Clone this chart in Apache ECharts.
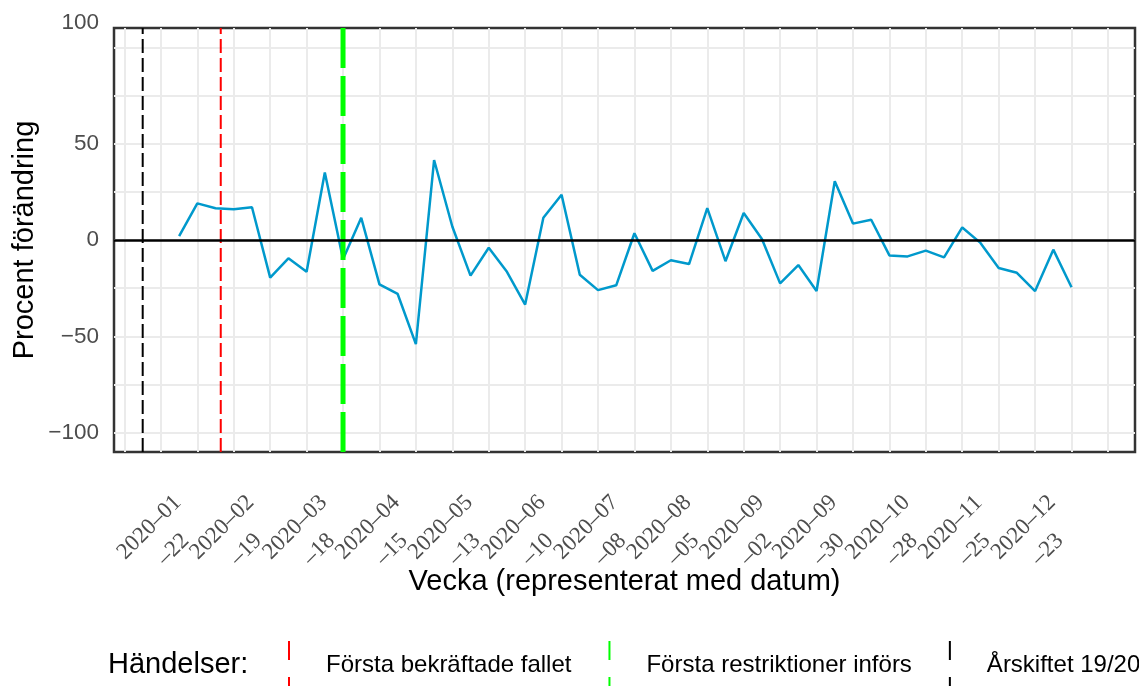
<!DOCTYPE html>
<html>
<head>
<meta charset="utf-8">
<script src="https://cdn.jsdelivr.net/npm/echarts@6/dist/echarts.min.js"></script>
<style>
html,body{margin:0;padding:0;background:#ffffff;}
#chart{width:1139px;height:686px;}
</style>
</head>
<body>
<div id="chart"></div>
<script>
// ---- data ----
const weekDates = [
  '2020-01-15','2020-01-22','2020-01-29','2020-02-05','2020-02-12','2020-02-19','2020-02-26',
  '2020-03-04','2020-03-11','2020-03-18','2020-03-25','2020-04-01','2020-04-08','2020-04-15',
  '2020-04-22','2020-04-29','2020-05-06','2020-05-13','2020-05-20','2020-05-27','2020-06-03',
  '2020-06-10','2020-06-17','2020-06-24','2020-07-01','2020-07-08','2020-07-15','2020-07-22',
  '2020-07-29','2020-08-05','2020-08-12','2020-08-19','2020-08-26','2020-09-02','2020-09-09',
  '2020-09-16','2020-09-23','2020-09-30','2020-10-07','2020-10-14','2020-10-21','2020-10-28',
  '2020-11-04','2020-11-11','2020-11-18','2020-11-25','2020-12-02','2020-12-09','2020-12-16',
  '2020-12-23'
];
const pctChange = [
  2, 19, 16.5, 16, 17, -19.5, -9.5,
  -16.5, 35, -10, 11.5, -23, -28, -54,
  41.5, 7, -18.5, -4, -16.5, -33.5, 11.5,
  23.5, -18, -26, -23.5, 3.5, -16, -10.5,
  -12.5, 16.5, -11, 14, 0.5, -22.5, -13,
  -26.5, 30.5, 8.5, 10.5, -8, -8.5, -5.5,
  -9, 6.5, -1.5, -14.5, -17, -26.5, -5,
  -24.5
];
const eventNames  = ['Första bekräftade fallet', 'Första restriktioner införs', 'Årskiftet 19/20'];
const eventDates  = ['2020-01-31', '2020-03-18', '2020-01-01'];
const xLabelDates = ['2020-01-22','2020-02-19','2020-03-18','2020-04-15','2020-05-13','2020-06-10',
                     '2020-07-08','2020-08-05','2020-09-02','2020-09-30','2020-10-28','2020-11-25','2020-12-23'];
const xGridDates  = ['2019-12-25','2020-01-08','2020-01-22','2020-02-05','2020-02-19','2020-03-04',
                     '2020-03-18','2020-04-01','2020-04-15','2020-04-29','2020-05-13','2020-05-27',
                     '2020-06-10','2020-06-24','2020-07-08','2020-07-22','2020-08-05','2020-08-19',
                     '2020-09-02','2020-09-16','2020-09-30','2020-10-14','2020-10-28','2020-11-11',
                     '2020-11-25','2020-12-09','2020-12-23','2021-01-06'];
const yGridValues  = [-100, -75, -50, -25, 0, 25, 50, 75, 100];
const yLabelValues = [-100, -50, 0, 50, 100];

// ---- helpers ----
const ORIGIN = Date.UTC(2020, 0, 1);
function dayOf(s) {
  const [y, m, d] = s.split('-').map(Number);
  return (Date.UTC(y, m - 1, d) - ORIGIN) / 86400000;
}
const labelByDay = {};
xLabelDates.forEach(s => { labelByDay[dayOf(s)] = s; });

const lineData = weekDates.map((d, i) => [dayOf(d), pctChange[i]]);
const eventColors = ['#FF0000', '#00FF00', '#000000'];
const eventWidths = [2, 5, 2];
const eventDash   = [[14, 5], [40, 8], [14, 5]];
const X_MIN = -11.03, X_MAX = 381.4;

const chart = echarts.init(document.getElementById('chart'), null, {renderer: 'canvas'});

const keyIcon = 'path://M0,0h2v19h-2z M0,36h2v12h-2z';

const labelFont = {fontFamily: 'Liberation Serif', fontSize: 23, color: '#4D4D4D'};

const option = {
  animation: false,
  backgroundColor: '#ffffff',
  title: {
    text: 'Händelser:',
    left: 108,
    top: 650,
    padding: 0,
    textStyle: {fontFamily: 'Liberation Sans', fontSize: 29, fontWeight: 'normal', color: '#000000'}
  },
  legend: {
    data: eventNames.map((n, i) => ({name: n, icon: keyIcon})),
    left: 288,
    top: 641,
    width: 1200,
    padding: 0,
    orient: 'horizontal',
    itemWidth: 2,
    itemHeight: 48,
    itemGap: 37,
    textStyle: {fontFamily: 'Liberation Sans', fontSize: 24, color: '#000000', padding: [0, 0, 0, 31]}
  },
  grid: {
    left: 114, top: 28, width: 1021, height: 424,
    show: true, borderColor: '#333333', borderWidth: 2.5, backgroundColor: 'rgba(0,0,0,0)',
    containLabel: false,
    outerBoundsMode: 'none'
  },
  xAxis: [
    {
      type: 'value',
      min: X_MIN,
      max: X_MAX,
      position: 'bottom',
      axisLine: {show: false},
      axisTick: {show: false, customValues: xGridDates.map(dayOf)},
      splitLine: {show: true, lineStyle: {color: '#EBEBEB', width: 2}},
      axisLabel: Object.assign({
        customValues: xLabelDates.map(dayOf),
        showMinLabel: true,
        showMaxLabel: true,
        hideOverlap: false,
        rotate: 45,
        align: 'center',
        verticalAlign: 'middle',
        margin: 27.5,
        padding: [0, 135.6, 0, 0],
        formatter: function (v) {
          const s = labelByDay[Math.round(v)];
          if (!s) return '';
          const p = s.split('-');
          return p[0] + '\u2013' + p[1];
        }
      }, labelFont),
      name: 'Vecka (representerat med datum)',
      nameLocation: 'middle',
      nameGap: 115,
      nameMoveOverlap: false,
      nameTextStyle: {fontFamily: 'Liberation Sans', fontSize: 29, color: '#000000'}
    },
    {
      type: 'value',
      min: X_MIN,
      max: X_MAX,
      position: 'bottom',
      offset: 0,
      axisLine: {show: false},
      axisTick: {show: false, customValues: xLabelDates.map(dayOf)},
      splitLine: {show: false},
      axisLabel: Object.assign({
        customValues: xLabelDates.map(dayOf),
        showMinLabel: true,
        showMaxLabel: true,
        hideOverlap: false,
        rotate: 45,
        align: 'center',
        verticalAlign: 'middle',
        margin: 73.5,
        padding: [0, 67.8, 0, 0],
        formatter: function (v) {
          const s = labelByDay[Math.round(v)];
          if (!s) return '';
          return '\u2013' + s.split('-')[2];
        }
      }, labelFont)
    }
  ],
  yAxis: {
    type: 'value',
    min: -110,
    max: 110,
    axisLine: {show: false},
    axisTick: {show: false, customValues: yGridValues},
    splitLine: {show: true, lineStyle: {color: '#EBEBEB', width: 2}},
    axisLabel: {
      customValues: yLabelValues,
      showMinLabel: true,
      showMaxLabel: true,
      margin: 15,
      fontFamily: 'Liberation Sans',
      fontSize: 22.5,
      color: '#4D4D4D',
      formatter: function (v) {
        if (v === 100) return '{t|100}';
        return v < 0 ? '\u2212' + Math.abs(v) : String(v);
      },
      rich: {
        t: {fontFamily: 'Liberation Sans', fontSize: 22.5, color: '#4D4D4D', padding: [0, 0, 48, 0]}
      }
    },
    name: 'Procent förändring',
    nameLocation: 'middle',
    nameGap: 75,
    nameMoveOverlap: false,
    nameTextStyle: {fontFamily: 'Liberation Sans', fontSize: 29, color: '#000000'}
  },
  series: [
    {
      name: 'Procent',
      type: 'line',
      xAxisIndex: 0,
      data: lineData,
      showSymbol: false,
      symbol: 'none',
      z: 3,
      lineStyle: {color: '#0099CC', width: 2.5},
      itemStyle: {color: '#0099CC'},
      markLine: {
        silent: true,
        symbol: 'none',
        label: {show: false},
        lineStyle: {color: '#000000', width: 2.5, type: 'solid'},
        data: [{yAxis: 0}]
      }
    }
  ].concat(eventNames.map((n, i) => ({
    name: n,
    type: 'line',
    xAxisIndex: 0,
    data: [[dayOf(eventDates[i]), -110], [dayOf(eventDates[i]), 110]],
    showSymbol: false,
    symbol: 'none',
    z: 4,
    lineStyle: {color: eventColors[i], width: eventWidths[i], type: eventDash[i]},
    itemStyle: {color: eventColors[i]}
  })))
};

chart.setOption(option);
</script>
</body>
</html>
